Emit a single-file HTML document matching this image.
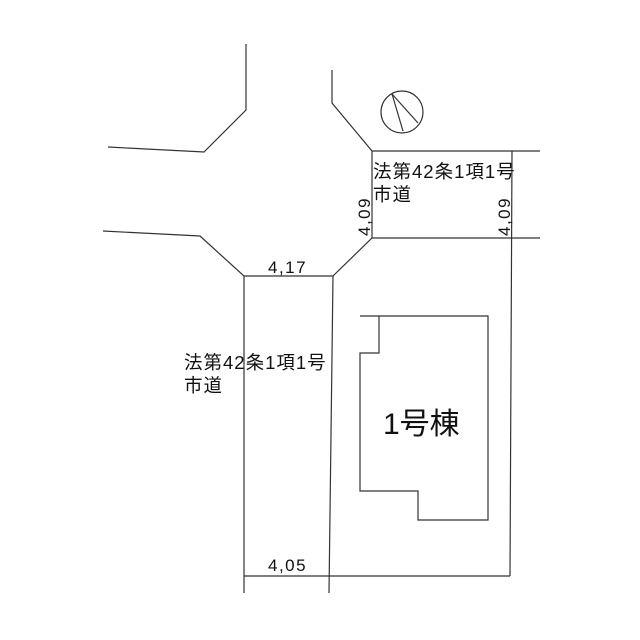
<!DOCTYPE html>
<html><head><meta charset="utf-8"><style>
body{margin:0;background:#fff}
svg{display:block}
text{font-family:"Liberation Sans","Noto Sans CJK JP",sans-serif;fill:#111}
</style></head><body>
<svg width="640" height="640" viewBox="0 0 640 640" xmlns="http://www.w3.org/2000/svg">
<g fill="none" stroke="#333" stroke-width="1.2">
<polyline points="246,44 246,110 204,152 108,147"/>
<polyline points="103,231 200,236 244,276 244,593"/>
<line x1="244" y1="276" x2="333" y2="276"/>
<polyline points="332,70 332,103 372,151 540,151"/>
<polyline points="540,238 372,238 333,276 329,593"/>
<line x1="372" y1="151" x2="372" y2="238"/>
<line x1="512" y1="151" x2="510" y2="576"/>
<line x1="244" y1="576" x2="510" y2="576"/>
<circle cx="402" cy="112" r="21"/>
<polyline points="392,94 403,131"/>
<polyline points="392,94 418,123"/>
<polyline points="360,316 488,316 488,520 418,520 418,491 360,491 360,353 379,353 379,316"/>
</g>
<g font-size="18.5" letter-spacing="1">
<text x="373" y="178">法第42条1項1号</text>
<text x="373" y="201">市道</text>
<text x="184" y="369">法第42条1項1号</text>
<text x="184" y="392">市道</text>
</g>
<g font-size="17" letter-spacing="1.5">
<text x="268" y="273">4,17</text>
<text x="268" y="571">4,05</text>
<text transform="translate(370,236) rotate(-90)">4,09</text>
<text transform="translate(510,236) rotate(-90)">4,09</text>
</g>
<text x="383" y="434" font-size="30">1号棟</text>
</svg>
</body></html>
